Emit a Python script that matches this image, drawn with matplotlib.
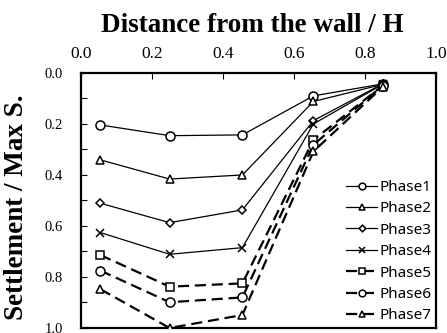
import matplotlib
matplotlib.use('Agg')
import matplotlib.pyplot as plt

# 数据
dist = [0.055, 0.25, 0.455, 0.655, 0.85]
phases = ['Phase1', 'Phase2', 'Phase3', 'Phase4', 'Phase5', 'Phase6', 'Phase7']
phase1 = [0.204, 0.246, 0.243, 0.090, 0.043]
phase2 = [0.341, 0.416, 0.400, 0.112, 0.045]
phase3 = [0.511, 0.587, 0.537, 0.187, 0.043]
phase4 = [0.626, 0.711, 0.685, 0.200, 0.045]
phase5 = [0.714, 0.838, 0.825, 0.263, 0.050]
phase6 = [0.775, 0.899, 0.880, 0.282, 0.050]
phase7 = [0.848, 1.000, 0.949, 0.308, 0.055]
series = [phase1, phase2, phase3, phase4, phase5, phase6, phase7]

markers = ['o', '^', 'D', 'x', 's', 'o', '^']
msizes = [6.5, 6, 4.5, 6, 6, 6.5, 6]
serif = ['Liberation Serif', 'DejaVu Serif']

fig = plt.figure(figsize=(4.47, 3.33), dpi=100)
ax = fig.add_axes([0.181, 0.015, 0.794, 0.766])

for i, (name, vals) in enumerate(zip(phases, series)):
    if i < 4:
        ax.plot(dist, vals, color='black', lw=0.9, marker=markers[i], ms=msizes[i],
                mfc='white', mec='black', mew=1.1, label=name, zorder=3)
    else:
        ax.plot(dist, vals, color='black', lw=1.6, dashes=(5, 2.6), marker=markers[i],
                ms=msizes[i], mfc='white', mec='black', mew=1.1, label=name, zorder=3)

ax.set_xlim(0, 1)
ax.set_ylim(1, 0)
ax.set_xticks([0, 0.2, 0.4, 0.6, 0.8, 1.0])
ax.set_yticks([0, 0.2, 0.4, 0.6, 0.8, 1.0])
ax.set_yticks([0.1, 0.3, 0.5, 0.7, 0.9], minor=True)
ax.xaxis.tick_top()
ax.xaxis.set_label_position('top')
ax.tick_params(axis='both', which='both', direction='in', length=4, width=0.8)
ax.tick_params(axis='x', pad=8)
ax.tick_params(axis='y', pad=13)

ax.set_xticklabels(['0.0', '0.2', '0.4', '0.6', '0.8', '1.0'], fontfamily=serif, fontsize=12.5)
ax.set_yticklabels(['0.0', '0.2', '0.4', '0.6', '0.8', '1.0'], fontfamily=serif, fontsize=10.5)

for sp in ax.spines.values():
    sp.set_linewidth(1.6)

ax.set_xlabel('Distance from the wall / H', fontfamily=serif, fontsize=19.5,
              fontweight='bold')
ax.set_ylabel('Settlement / Max S.', fontfamily=serif, fontsize=19.5,
              fontweight='bold')
ax.xaxis.set_label_coords(0.482, 1.16)
ax.yaxis.set_label_coords(-0.145, 0.475)

leg = ax.legend(loc='lower right', frameon=False, prop={'family': 'Noto Sans', 'size': 11},
                handlelength=2.0, handletextpad=0.15, labelspacing=0.42,
                markerscale=0.75, borderaxespad=-0.1)

plt.savefig('out.png', dpi=100)
